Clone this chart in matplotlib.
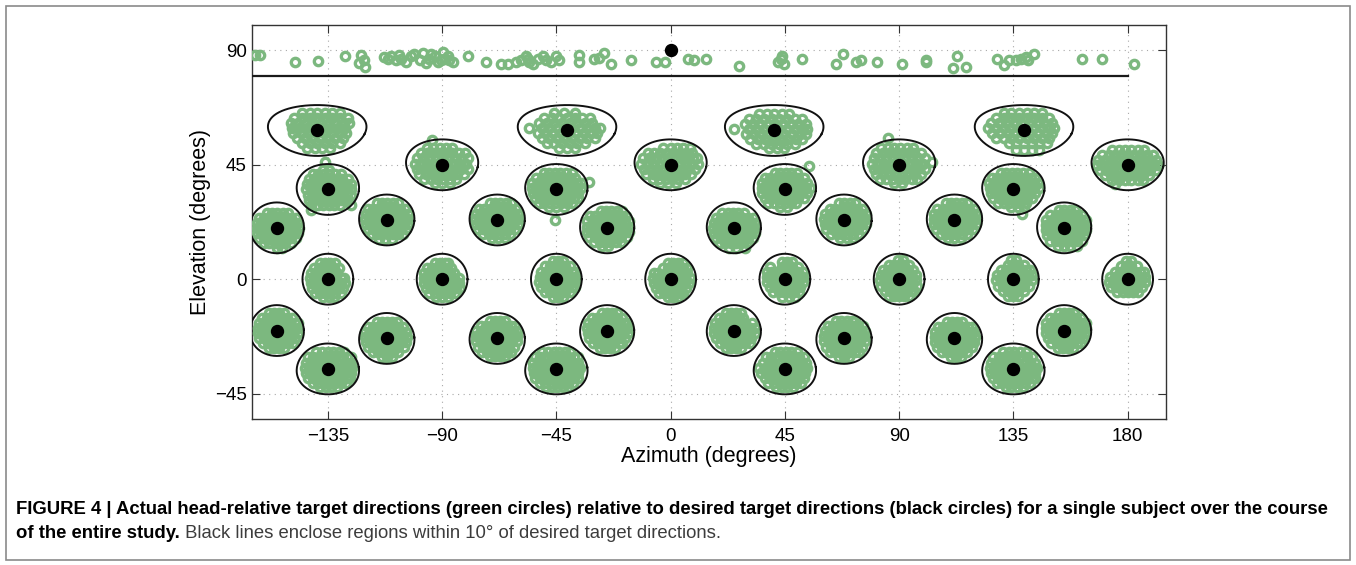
import numpy as np
import matplotlib
matplotlib.use('Agg')
import matplotlib.pyplot as plt
from matplotlib.patches import Rectangle

GREEN = '#7cb87f'
RADIUS = 10  # degrees around each desired direction

# desired target directions (degrees), pole target last
target_az = [-139.2, -40.8, 40.8, 139.2,
             -90, 0, 90, 180,
             -135, -45, 45, 135,
             -111.8, -68.3, 68.3, 111.8,
             -155.1, -25, 24.9, 155,
             -135, -90, -45, 0, 45, 90, 135, 180,
             -155.1, -25, 24.9, 155,
             -111.8, -68.3, 68.3, 111.8,
             -135, -45, 45, 135,
             0]
target_el = [58.5, 58.5, 58.5, 58.5,
             45, 45, 45, 45,
             35.3, 35.3, 35.3, 35.3,
             23.3, 23.3, 23.3, 23.3,
             20.2, 20.2, 20.2, 20.2,
             0, 0, 0, 0, 0, 0, 0, 0,
             -20.2, -20.2, -20.2, -20.2,
             -23.3, -23.3, -23.3, -23.3,
             -35.3, -35.3, -35.3, -35.3,
             90]

# actual directions for the overhead target (spread along azimuth)
pole_az = [-163.8, -161.9, -148.0, -138.7, -128.2, -121.9, -120.6, -122.6, -120.3,
           -112.7, -110.1, -108.1, -106.8, -104.2, -102.2, -100.9, -98.9, -97.6, -96.3,
           -95.0, -93.0, -91.7, -89.8, -89.1, -87.1, -85.8, -106.1, -111.4, -94.3,
           -90.4, -87.8, -79.9, -72.7, -66.8, -64.2, -60.9, -58.9, -56.9, -55.6,
           -54.3, -52.4, -50.4, -49.1, -47.1, -45.1, -43.8, -56.3, -36.2, -36.2,
           -30.0, -28.1, -26.1, -23.5, -15.6, -5.7, -2.2, 6.7, 9.3, 13.9,
           26.8, 42.1, 43.9, 44.8, 43.5, 51.6, 65.1, 68.0, 73.0, 75.0,
           81.3, 91.3, 100.6, 100.6, 112.8, 111.4, 116.3, 128.7, 131.4, 133.3,
           136.0, 138.0, 139.9, 140.6, 143.2, 162.0, 169.8, 182.6]
pole_el = [88.3, 88.3, 85.4, 85.8, 87.9, 88.3, 86.3, 85.0, 83.3,
           87.4, 87.9, 86.3, 88.3, 85.3, 87.7, 88.7, 86.3, 89.0, 85.0,
           86.8, 87.7, 85.5, 89.4, 86.8, 86.1, 85.5, 86.8, 86.8, 88.7,
           86.3, 87.9, 87.9, 85.5, 84.8, 84.8, 85.5, 86.3, 87.7, 85.5,
           84.8, 86.6, 87.9, 86.3, 85.5, 87.7, 86.3, 86.8, 88.3, 85.4,
           86.6, 87.1, 89.0, 84.8, 86.3, 85.4, 85.4, 86.6, 86.1, 86.5,
           84.0, 85.5, 87.9, 84.8, 86.6, 86.6, 84.8, 88.7, 85.5, 86.1,
           85.4, 84.8, 86.3, 85.5, 88.0, 83.0, 83.4, 86.6, 84.4, 86.3,
           86.3, 86.6, 87.4, 86.1, 88.7, 86.6, 86.6, 84.8]

# actual directions around each target, as rows of
# (elevation offset, [azimuth offsets]) in degrees
rows_el58 = [
    [(7, [-6, -3, 0, 3, 6, 9]), (5, [-9, -6, -3, 0, 3, 6, 9, 12]),
     (3, [-10.5, -7.5, -4.5, -1.5, 1.5, 4.5, 7.5, 10.5, 12.5]), (1, [-10, -7, -4, -1, 2, 5, 8, 11]),
     (-1, [-9.5, -6.5, -3.5, -0.5, 2.5, 5.5, 8.5, 11.5]), (-3, [-8, -5, -2, 1, 4, 7, 10]),
     (-5, [-6, -3, 0, 3, 6, 9]), (-7, [-4, -1, 2, 5])],
    [(7, [-5, -1, 3]), (5, [-9, -6, -3, 0, 3, 6, 9]), (3, [-11, -8, -5, -2, 1, 4, 7, 10]),
     (1, [-14.8, -10, -7, -4, -1, 2, 5, 8, 11, 13]), (-1, [-11.5, -8.5, -5.5, -2.5, 0.5, 3.5, 6.5, 9.5, 12]),
     (-3, [-10, -7, -4, -1, 2, 5, 8, 11]), (-5, [-8, -5, -2, 1, 4, 7]), (-7, [-3, 0, 3])],
    [(6.5, [-6, -3, 0, 3, 6]), (4.5, [-10, -7, -4, -1, 2, 5, 8, 11]),
     (2.5, [-11.5, -8.5, -5.5, -2.5, 0.5, 3.5, 6.5, 9.5, 12.5]), (0.5, [-15.7, -10, -7, -4, -1, 2, 5, 8, 11, 13]),
     (-1.5, [-11, -8, -5, -2, 1, 4, 7, 10, 12.5]), (-3.5, [-9.5, -6.5, -3.5, -0.5, 2.5, 5.5, 8.5, 11]),
     (-5.5, [-7, -4, -1, 2, 5, 8]), (-7, [-2, 1, 4])],
    [(7, [-8, -5, -2, 1, 4, 7]), (5, [-11, -8, -5, -2, 1, 4, 7, 10]),
     (3, [-13, -10, -7, -4, -1, 2, 5, 8, 11]), (1, [-14, -11, -8, -5, -2, 1, 4, 7, 10, 12]),
     (-1, [-12.5, -9.5, -6.5, -3.5, -0.5, 2.5, 5.5, 8.5, 11]), (-3, [-11, -8, -5, -2, 1, 4, 7, 10]),
     (-5, [-6, -3, 0, 3, 6, 9]), (-7.5, [-3, 0, 3, 6])],
]
rows_el45 = [
    [(9.9, [-4]), (6.5, [-6, -3.5, -1, 1.5, 4]), (4.5, [-8.5, -6, -3.5, -1, 1.5, 4, 6.5, 9]),
     (2.5, [-10, -7.5, -5, -2.5, 0, 2.5, 5, 7.5, 10]), (0.5, [-10.5, -8, -5.5, -3, -0.5, 2, 4.5, 7, 9.5]),
     (-1.5, [-10, -7.5, -5, -2.5, 0, 2.5, 5, 7.5, 10]), (-3.5, [-9, -6.5, -4, -1.5, 1, 3.5, 6, 8.5]),
     (-5.5, [-7, -4.5, -2, 0.5, 3, 5.5]), (-7, [-3, 0, 3])],
    [(6.5, [-3, 0, 2.5, 5, 7.5]), (4.5, [-9, -6.5, -4, -1.5, 1, 3.5, 6, 8.5]),
     (2.5, [-11, -8.5, -6, -3.5, -1, 1.5, 4, 6.5, 9, 10.5]), (0.5, [-11.5, -9, -6.5, -4, -1.5, 1, 3.5, 6, 8.5, 10.8]),
     (-1.5, [-10.5, -8, -5.5, -3, -0.5, 2, 4.5, 7, 9.5]), (-3.5, [-9.5, -7, -4.5, -2, 0.5, 3, 5.5, 8]),
     (-5.5, [-7, -4.5, -2, 0.5, 3, 5.5]), (-7, [-4, -1, 2])],
    [(10.5, [-4.2]), (6.5, [-7, -4.5, -2, 0.5, 3, 5.5]), (4.5, [-9, -6.5, -4, -1.5, 1, 3.5, 6, 8.5]),
     (2.5, [-10, -7.5, -5, -2.5, 0, 2.5, 5, 7.5, 10]), (1.3, [13.1]),
     (0.5, [-10.5, -8, -5.5, -3, -0.5, 2, 4.5, 7, 9.5]), (-1.5, [-10, -7.5, -5, -2.5, 0, 2.5, 5, 7.5, 10]),
     (-3.5, [-9, -6.5, -4, -1.5, 1, 3.5, 6, 8.5]), (-5.5, [-7.5, -5, -2.5, 0, 2.5, 5, 7]), (-7, [-2, 1])],
    [(6, [-6, -3.5, -1, 1.5, 4, 6.5]), (4, [-10, -7.5, -5, -2.5, 0, 2.5, 5, 7.5, 10]),
     (2, [-11.5, -9, -6.5, -4, -1.5, 1, 3.5, 6, 8.5, 11]), (0, [-12, -9.5, -7, -4.5, -2, 0.5, 3, 5.5, 8, 10.5, 12]),
     (-2, [-11, -8.5, -6, -3.5, -1, 1.5, 4, 6.5, 9, 11]), (-4, [-9, -6.5, -4, -1.5, 1, 3.5, 6, 8.5]),
     (-6, [-6, -3.5, -1, 1.5, 4, 6]), (-7.5, [-5])],
]
rows_el35 = [
    [(11, [-1]), (7.5, [-2, 0.5]), (6, [-6, -3.8, -1.6, 0.6, 2.8, 5]),
     (4, [-7.5, -5.3, -3.1, -0.9, 1.3, 3.5, 5.7, 7.9]), (2, [-8.4, -6.2, -4, -1.8, 0.4, 2.6, 4.8, 7, 9]),
     (0, [-8.5, -6.3, -4.1, -1.9, 0.3, 2.5, 4.7, 6.9, 9]), (-2, [-8, -5.8, -3.6, -1.4, 0.8, 3, 5.2, 7.4, 9]),
     (-4, [-7.5, -5.3, -3.1, -0.9, 1.3, 3.5, 5.7, 8]), (-6, [-6.5, -4, -1.8, 0.4, 2.6, 4.8, 9.2]), (-8, [-6.6])],
    [(6.5, [-5, -2.8, -0.6, 1.6, 3.8, 6]), (4.5, [-8, -5.8, -3.6, -1.4, 0.8, 3, 5.2, 7.4]), (3.1, [13]),
     (2.5, [-9.5, -7.3, -5.1, -2.9, -0.7, 1.5, 3.7, 5.9, 8.1, 9.6]),
     (0.5, [-9.6, -7.4, -5.2, -3, -0.8, 1.4, 3.6, 5.8, 8, 9.8]),
     (-1.5, [-9.2, -7, -4.8, -2.6, -0.4, 1.8, 4, 6.2, 8.4]),
     (-3.5, [-8.5, -6.3, -4.1, -1.9, 0.3, 2.5, 4.7, 6.9, 8.6]),
     (-5.5, [-7, -4.8, -2.6, -0.4, 1.8, 4, 6.2]), (-7, [-3, 0, 3]), (-12.2, [-0.4])],
    [(9.3, [9.6]), (6.5, [-4, -1.8, 0.4, 2.6, 4.8]), (4.5, [-8, -5.8, -3.6, -1.4, 0.8, 3, 5.2, 7.4]),
     (2.5, [-9, -6.8, -4.6, -2.4, -0.2, 2, 4.2, 6.4, 8.6]),
     (0.5, [-9.2, -7, -4.8, -2.6, -0.4, 1.8, 4, 6.2, 8.4, 9.8]),
     (-1.5, [-9, -6.8, -4.6, -2.4, -0.2, 2, 4.2, 6.4, 8.6]),
     (-3.5, [-8, -5.8, -3.6, -1.4, 0.8, 3, 5.2, 7.4]), (-5.5, [-6.5, -4.3, -2.1, 0.1, 2.3, 4.5]), (-7, [-2, 1])],
    [(6.5, [-5, -2.8, -0.6, 1.6, 3.8, 6]), (4.5, [-8.5, -6.3, -4.1, -1.9, 0.3, 2.5, 4.7, 6.9, 8.5]),
     (2.5, [-9.5, -7.3, -5.1, -2.9, -0.7, 1.5, 3.7, 5.9, 8.1, 9.8]),
     (0.5, [-9.4, -7.2, -5, -2.8, -0.6, 1.6, 3.8, 6, 8.2, 10]),
     (-1.5, [-9, -6.8, -4.6, -2.4, -0.2, 2, 4.2, 6.4, 8.6]),
     (-3.5, [-8, -5.8, -3.6, -1.4, 0.8, 3, 5.2, 7.4]), (-5.5, [-6, -3.8, -1.6, 0.6, 2.8, 5]),
     (-7, [-1, 2, 4]), (-9.6, [3.3])],
]
rows_el23 = [
    [(6.5, [-4, -1.9, 0.2, 2.3, 4.4]), (4.5, [-7.5, -5.4, -3.3, -1.2, 0.9, 3, 5.1, 7.2]),
     (2.5, [-8.3, -6.2, -4.1, -2, 0.1, 2.2, 4.3, 6.4, 8.3]), (0.5, [-8.5, -6.4, -4.3, -2.2, -0.1, 2, 4.1, 6.2, 8.3]),
     (-1.5, [-8.3, -6.2, -4.1, -2, 0.1, 2.2, 4.3, 6.4, 8.4]), (-3.5, [-7.5, -5.4, -3.3, -1.2, 0.9, 3, 5.1, 7.5]),
     (-5.5, [-6, -3.9, -1.8, 0.3, 2.4, 4.5, 6.3]), (-7.5, [-3, -0.5, 2])],
    [(6.5, [-3, -0.9, 1.2, 3.3, 5.4]), (4.5, [-7.2, -5.1, -3, -0.9, 1.2, 3.3, 5.4, 7.5]),
     (2.5, [-8.5, -6.4, -4.3, -2.2, -0.1, 2, 4.1, 6.2, 8.2]), (0.5, [-8.7, -6.6, -4.5, -2.4, -0.3, 1.8, 3.9, 6, 8.1]),
     (-1.5, [-8.5, -6.4, -4.3, -2.2, -0.1, 2, 4.1, 6.2, 8.3]), (-3.5, [-7.6, -5.5, -3.4, -1.3, 0.8, 2.9, 5, 7.2]),
     (-5.5, [-5.5, -3.4, -1.3, 0.8, 2.9, 5]), (-7.2, [-2, 0.5, 3])],
    [(6.5, [-2, 0.1, 2.2, 4.3]), (4.5, [-5.5, -3.4, -1.3, 0.8, 2.9, 5, 7.1]),
     (2.5, [-7.5, -5.4, -3.3, -1.2, 0.9, 3, 5.1, 7.2, 8.6]), (0.5, [-7.8, -5.7, -3.6, -1.5, 0.6, 2.7, 4.8, 6.9, 8.8]),
     (-1.5, [-7.6, -5.5, -3.4, -1.3, 0.8, 2.9, 5, 7.1, 8.6]), (-3.5, [-7, -4.9, -2.8, -0.7, 1.4, 3.5, 5.6, 7.5]),
     (-5.5, [-5, -2.9, -0.8, 1.3, 3.4, 5.5]), (-7, [-1.5, 1, 3.5])],
    [(6.5, [-3.5, -1.4, 0.7, 2.8, 4.9]), (4.5, [-6.8, -4.7, -2.6, -0.5, 1.6, 3.7, 5.8, 7.6]),
     (2.5, [-8, -5.9, -3.8, -1.7, 0.4, 2.5, 4.6, 6.7, 8.4]), (0.5, [-8.2, -6.1, -4, -1.9, 0.2, 2.3, 4.4, 6.5, 8.5]),
     (-1.5, [-8, -5.9, -3.8, -1.7, 0.4, 2.5, 4.6, 6.7, 8.5]), (-3.5, [-7.2, -5.1, -3, -0.9, 1.2, 3.3, 5.4, 7.4]),
     (-5.5, [-5.5, -3.4, -1.3, 0.8, 2.9, 5]), (-7.2, [-2.5, 0, 2.5])],
]
rows_el20 = [
    [(6, [-4, -1.9, 0.2, 2.3, 4.4]), (4, [-7, -4.9, -2.8, -0.7, 1.4, 3.5, 5.6, 7.6]),
     (2, [-7.8, -5.7, -3.6, -1.5, 0.6, 2.7, 4.8, 6.9, 8.5]), (0, [-8, -5.9, -3.8, -1.7, 0.4, 2.5, 4.6, 6.7, 8.6]),
     (-2, [-7.8, -5.7, -3.6, -1.5, 0.6, 2.7, 4.8, 6.9, 8.4]), (-4, [-7, -4.9, -2.8, -0.7, 1.4, 3.5, 5.6, 7.4]),
     (-6, [-5, -2.9, -0.8, 1.3, 3.4, 5.5]), (-7.8, [0, 2])],
    [(6.5, [-2.5, -0.4, 1.7, 3.8, 5.9]), (4.5, [-6.8, -4.7, -2.6, -0.5, 1.6, 3.7, 5.8, 7.6]),
     (2.5, [-7.8, -5.7, -3.6, -1.5, 0.6, 2.7, 4.8, 6.9, 8.6]), (0.5, [-8, -5.9, -3.8, -1.7, 0.4, 2.5, 4.6, 6.7, 8.7]),
     (-1.5, [-7.8, -5.7, -3.6, -1.5, 0.6, 2.7, 4.8, 6.9, 8.5]), (-3.5, [-7, -4.9, -2.8, -0.7, 1.4, 3.5, 5.6, 7.7]),
     (-5.5, [-5, -2.9, -0.8, 1.3, 3.4, 5.5]), (-7, [-2, 0.5])],
    [(6, [-4.5, -2.4, -0.3, 1.8, 3.9]), (4, [-7, -4.9, -2.8, -0.7, 1.4, 3.5, 5.6, 7.5]),
     (2, [-8, -5.9, -3.8, -1.7, 0.4, 2.5, 4.6, 6.7, 8.2]), (0, [-8.2, -6.1, -4, -1.9, 0.2, 2.3, 4.4, 6.5, 8.4]),
     (-2, [-8, -5.9, -3.8, -1.7, 0.4, 2.5, 4.6, 6.7, 8.2]), (-4, [-7, -4.9, -2.8, -0.7, 1.4, 3.5, 5.6, 7.5]),
     (-6, [-5.5, -3.4, -1.3, 0.8, 2.9, 5]), (-7.8, [-2, 1, 4.5])],
    [(7, [-2, 0.1, 2.2, 4.3]), (5, [-5.5, -3.4, -1.3, 0.8, 2.9, 5, 7.1]),
     (3, [-7, -4.9, -2.8, -0.7, 1.4, 3.5, 5.6, 7.7, 8.6]), (1, [-7.2, -5.1, -3, -0.9, 1.2, 3.3, 5.4, 7.5, 8.8]),
     (-1, [-7, -4.9, -2.8, -0.7, 1.4, 3.5, 5.6, 7.7, 8.6]), (-3, [-6.8, -4.7, -2.6, -0.5, 1.6, 3.7, 5.8, 7.8]),
     (-5, [-5.5, -3.4, -1.3, 0.8, 2.9, 5, 7]), (-7, [-2.5, 0, 2.5, 5])],
]
rows_el0 = [
    [(6.5, [-3, -1, 1, 3]), (4.5, [-5.5, -3.5, -1.5, 0.5, 2.5, 4.5]), (2.5, [-6.5, -4.5, -2.5, -0.5, 1.5, 3.5]),
     (0.5, [-7, -5, -3, -1, 1, 3, 5, 6.5]), (-1.5, [-6.8, -4.8, -2.8, -0.8, 1.2, 3.2, 5.2, 6.8]),
     (-3.5, [-6.2, -4.2, -2.2, -0.2, 1.8, 3.8, 5.8]), (-5.5, [-5, -3, -1, 1, 3, 5]), (-7.2, [-2, 0.5, 2.5])],
    [(6.5, [-3, -1, 1, 2.5]), (4.5, [-6, -4, -2, 0, 2, 3.5]), (2.5, [-7, -5, -3, -1, 1, 3, 4.8]),
     (0.5, [-7.2, -5.2, -3.2, -1.2, 0.8, 2.8, 4.8, 6.5]), (-1.5, [-7, -5, -3, -1, 1, 3, 5, 6.8]),
     (-3.5, [-6.5, -4.5, -2.5, -0.5, 1.5, 3.5, 5.5, 7]), (-5.5, [-5, -3, -1, 1, 3, 5]), (-7.2, [-2.5, 0, 2.5])],
    [(7, [-1.5, 0.5, 2.5]), (5, [-4.5, -2.5, -0.5, 1.5, 3.5, 5.5]), (3, [-6, -4, -2, 0, 2, 4, 6, 7.5]),
     (1, [-6.5, -4.5, -2.5, -0.5, 1.5, 3.5, 5.5, 7.5]), (-1, [-6.7, -4.7, -2.7, -0.7, 1.3, 3.3, 5.3, 7.3]),
     (-3, [-6, -4, -2, 0, 2, 4, 6, 7.5]), (-5, [-4.5, -2.5, -0.5, 1.5, 3.5, 5.5]), (-7, [-1.5, 0.5, 2.5])],
    [(6.5, [-1, 1, 3, 5]), (4.5, [-3, -1, 1, 3, 5, 6.5]), (2.5, [-6.5, -4.8, -2, 0, 2, 4, 6.5]),
     (0.5, [-6.8, -4.8, -2.8, -0.8, 1.2, 3.2, 5.2, 7.5]), (-1.5, [-6.5, -4.5, -2.5, -0.5, 1.5, 3.5, 5.5, 7.2]),
     (-3.5, [-5.8, -3.8, -1.8, 0.2, 2.2, 4.2, 6.2]), (-5.5, [-4.5, -2.5, -0.5, 1.5, 3.5, 5]), (-7.2, [-1, 1, 3])],
    [(6.8, [-1, 1, 3]), (4.8, [-6, -1, 1, 3, 5]), (2.8, [-7, -5, -3, -1, 1, 3, 5, 7]),
     (0.8, [-7, -5, -3, -1, 1, 3, 5, 7]), (-1.2, [-7, -5, -3, -1, 1, 3, 5, 7]),
     (-3.2, [-6, -4, -2, 0, 2, 4, 6]), (-5.2, [-4.5, -2.5, -0.5, 1.5, 3.5, 5.5]), (-7, [-1, 1.5, 4])],
    [(7.5, [-0.5, 1.5]), (5.5, [-4, -2, 0, 2, 4]), (3.5, [-6.5, -4.5, -2.5, -0.5, 1.5, 3.5, 5.5]),
     (1.5, [-7.2, -5.2, -3.2, -1.2, 0.8, 2.8, 4.8, 6.8]), (-0.5, [-7.4, -5.4, -3.4, -1.4, 0.6, 2.6, 4.6, 6.6]),
     (-2.5, [-7, -5, -3, -1, 1, 3, 5, 7]), (-4.5, [-5.5, -3.5, -1.5, 0.5, 2.5, 4.5, 6]), (-6.5, [-4, -2, 0, 2, 4])],
    [(7.5, [-1, 1]), (5.5, [-2, 0, 2, 4]), (3.5, [-5, -3, -1, 1, 3, 5, 6.5]),
     (1.5, [-6.5, -4.5, -2.5, -0.5, 1.5, 3.5, 5.5, 7.5]), (-0.5, [-7, -5, -3, -1, 1, 3, 5, 7.5]),
     (-2.5, [-6, -4, -2, 0, 2, 4, 6]), (-4.5, [-4, -2, 0, 2, 4]), (-6.5, [-2, 0, 2])],
    [(7, [-0.5, 1.5]), (5, [-2.5, -0.5, 1.5, 3.5]), (3, [-5, -3, -1, 1, 3, 5, 6.5]),
     (1, [-7, -5, -3, -1, 1, 3, 5, 7]), (-1, [-7.2, -5.2, -3.2, -1.2, 0.8, 2.8, 4.8, 6.8]),
     (-3, [-6.5, -4.5, -2.5, -0.5, 1.5, 3.5, 5.5]), (-5, [-4, -2, 0, 2, 4])],
]
rows_elm20 = [
    [(7, [-3, -1, 1, 3]), (5, [-6, -4, -2, 0, 2, 4, 6]), (3, [-7, -5, -3, -1, 1, 3, 5, 7, 8.5]),
     (1, [-7.5, -5.5, -3.5, -1.5, 0.5, 2.5, 4.5, 6.5, 8.5]), (-1, [-7.5, -5.5, -3.5, -1.5, 0.5, 2.5, 4.5, 6.5, 8.3]),
     (-3, [-7, -5, -3, -1, 1, 3, 5, 7]), (-5, [-5.5, -3.5, -1.5, 0.5, 2.5, 4.5, 6.5]), (-7, [-3, -1, 1, 3])],
    [(7, [-2, 0, 2, 4]), (5, [-6, -4, -2, 0, 2, 4, 6]), (3, [-7.5, -5.5, -3.5, -1.5, 0.5, 2.5, 4.5, 6.5, 8]),
     (1, [-7.8, -5.8, -3.8, -1.8, 0.2, 2.2, 4.2, 6.2, 8.2]), (-1, [-7.6, -5.6, -3.6, -1.6, 0.4, 2.4, 4.4, 6.4, 8.2]),
     (-3, [-7, -5, -3, -1, 1, 3, 5, 7]), (-5, [-5.5, -3.5, -1.5, 0.5, 2.5, 4.5, 6]), (-7, [-3, -1, 1, 3])],
    [(7, [-3, -1, 1, 3]), (5, [-6, -4, -2, 0, 2, 3.5]), (3, [-7.5, -5.5, -3.5, -1.5, 0.5, 2.5, 4.5, 7]),
     (1, [-7.8, -5.8, -3.8, -1.8, 0.2, 2.2, 4.2, 6.2, 8.2]), (-1, [-7.8, -5.8, -3.8, -1.8, 0.2, 2.2, 4.2, 6.2, 8.2]),
     (-3, [-7.2, -5.2, -3.2, -1.2, 0.8, 2.8, 4.8, 6.8]), (-5, [-5.5, -3.5, -1.5, 0.5, 2.5, 4.5, 6.5]),
     (-7, [-3, -1, 1, 3])],
    [(7, [-2, 0, 2, 4]), (5, [-5.5, -3.5, -1.5, 0.5, 2.5, 4.5, 6.5]), (3, [-7, -5, -3, -1, 1, 3, 5, 7, 8.5]),
     (1, [-7.2, -5.2, -3.2, -1.2, 0.8, 2.8, 4.8, 6.8, 8.6]), (-1, [-7.2, -5.2, -3.2, -1.2, 0.8, 2.8, 4.8, 6.8, 8.4]),
     (-3, [-6.5, -4.5, -2.5, -0.5, 1.5, 3.5, 5.5, 7.5]), (-5, [-5, -3, -1, 1, 3, 5, 6.5]),
     (-7, [-2.5, -0.5, 1.5, 3.5])],
]
rows_elm23 = [
    [(6.5, [-4, -2, 0, 2, 4]), (4.5, [-7.5, -5.5, -3.5, -1.5, 0.5, 2.5, 4.5, 6.5]),
     (2.5, [-8.4, -6.4, -4.4, -2.4, -0.4, 1.6, 3.6, 5.6, 7.6]), (0.5, [-8.5, -6.5, -4.5, -2.5, -0.5, 1.5, 3.5, 5.5, 7.8]),
     (-1.5, [-8.3, -6.3, -4.3, -2.3, -0.3, 1.7, 3.7, 5.7, 7.7]), (-3.5, [-7.5, -5.5, -3.5, -1.5, 0.5, 2.5, 4.5, 6.8]),
     (-5.5, [-5.5, -3.5, -1.5, 0.5, 2.5, 4.5]), (-7.2, [-2, 0, 2])],
    [(6.8, [-3, -1, 1, 3]), (4.8, [-6.5, -4.5, -2.5, -0.5, 1.5, 3.5, 5.5, 7]),
     (2.8, [-8.3, -6.3, -4.3, -2.3, -0.3, 1.7, 3.7, 5.7, 7.7]), (0.8, [-8.5, -6.5, -4.5, -2.5, -0.5, 1.5, 3.5, 5.5, 7.6]),
     (-1.2, [-8.3, -6.3, -4.3, -2.3, -0.3, 1.7, 3.7, 5.7, 7.7]), (-3.2, [-7.5, -5.5, -3.5, -1.5, 0.5, 2.5, 4.5, 6.8]),
     (-5.2, [-6, -4, -2, 0, 2, 4, 5.5]), (-7, [-3, -1, 1, 3])],
    [(6.8, [-3, -1, 1, 3, 4.5]), (4.8, [-6.5, -4.5, -2.5, -0.5, 1.5, 3.5, 5.5, 7.5]),
     (2.8, [-7.5, -5.5, -3.5, -1.5, 0.5, 2.5, 4.5, 6.5, 8.3]), (0.8, [-7.8, -5.8, -3.8, -1.8, 0.2, 2.2, 4.2, 6.2, 8.4]),
     (-1.2, [-7.8, -5.8, -3.8, -1.8, 0.2, 2.2, 4.2, 6.2, 8.3]), (-3.2, [-7, -5, -3, -1, 1, 3, 5, 7.2]),
     (-5.2, [-5.5, -3.5, -1.5, 0.5, 2.5, 4.5, 6]), (-7.2, [-2, 0, 2])],
    [(6.5, [-3, -1, 1, 3]), (4.5, [-6.5, -4.5, -2.5, -0.5, 1.5, 3.5, 5.5, 7]),
     (2.5, [-7.5, -5.5, -3.5, -1.5, 0.5, 2.5, 4.5, 6.5, 7.8]), (0.5, [-7.8, -5.8, -3.8, -1.8, 0.2, 2.2, 4.2, 6.2, 8]),
     (-1.5, [-7.6, -5.6, -3.6, -1.6, 0.4, 2.4, 4.4, 6.4, 7.8]), (-3.5, [-7, -5, -3, -1, 1, 3, 5, 7]),
     (-5.5, [-5, -3, -1, 1, 3, 5]), (-7.5, [-1.5, 0.5, 2.5])],
]
rows_elm35 = [
    [(6.5, [-4.5, -2.3, -0.1, 2.1, 4.3, 6.5]), (4.5, [-8, -5.8, -3.6, -1.4, 0.8, 3, 5.2, 7.4, 9]),
     (2.5, [-8.8, -6.6, -4.4, -2.2, 0, 2.2, 4.4, 6.6, 8.8, 9.5]),
     (0.5, [-9, -6.8, -4.6, -2.4, -0.2, 2, 4.2, 6.4, 8.6, 9.6]),
     (-1.5, [-8.6, -6.4, -4.2, -2, 0.2, 2.4, 4.6, 6.8, 9]),
     (-3.5, [-8, -5.8, -3.6, -1.4, 0.8, 3, 5.2, 7.4, 8.8]), (-5.5, [-6, -3.8, -1.6, 0.6, 2.8, 5, 7]),
     (-7, [-3, -0.8, 1.4, 3.6])],
    [(6.5, [-5.5, -3.3, -1.1, 1.1, 3.3, 5.5]), (4.5, [-8.5, -6.3, -4.1, -1.9, 0.3, 2.5, 4.7, 6.9, 8.5]),
     (2.5, [-9.2, -7, -4.8, -2.6, -0.4, 1.8, 4, 6.2, 8.4]),
     (0.5, [-9.3, -7.1, -4.9, -2.7, -0.5, 1.7, 3.9, 6.1, 8.3, 9.4]),
     (-1.5, [-9, -6.8, -4.6, -2.4, -0.2, 2, 4.2, 6.4, 8.6]),
     (-3.5, [-8.5, -6.3, -4.1, -1.9, 0.3, 2.5, 4.7, 6.9, 8.4]), (-5.5, [-6.5, -4.3, -2.1, 0.1, 2.3, 4.5, 6.5]),
     (-7.2, [-4, -1.8, 0.4, 2.6, 4.5])],
    [(6.5, [-4, -1.8, 0.4, 2.6, 4.8]), (4.5, [-7.5, -5.3, -3.1, -0.9, 1.3, 3.5, 5.7, 7.5]),
     (2.5, [-8.5, -6.3, -4.1, -1.9, 0.3, 2.5, 4.7, 6.9, 8.4]),
     (0.5, [-10.2, -8, -5.8, -3.6, -1.4, 0.8, 3, 5.2, 7.4, 8.6]),
     (-1.5, [-9.5, -7.3, -5.1, -2.9, -0.7, 1.5, 3.7, 5.9, 8.1]),
     (-3.5, [-8, -5.8, -3.6, -1.4, 0.8, 3, 5.2, 7.4]), (-5.5, [-6.5, -4.3, -2.1, 0.1, 2.3, 4.5, 6.5]),
     (-7.3, [-3.5, -1.3, 0.9, 3.1])],
    [(6.5, [-4, -1.8, 0.4, 2.6, 4.8]), (4.5, [-8, -5.8, -3.6, -1.4, 0.8, 3, 5.2, 7.4]),
     (2.5, [-9, -6.8, -4.6, -2.4, -0.2, 2, 4.2, 6.4, 8.6]),
     (0.5, [-9.2, -7, -4.8, -2.6, -0.4, 1.8, 4, 6.2, 8.4, 9.3]),
     (-1.5, [-9, -6.8, -4.6, -2.4, -0.2, 2, 4.2, 6.4, 8.6]),
     (-3.5, [-8.2, -6, -3.8, -1.6, 0.6, 2.8, 5, 7.2, 8.5]), (-5.5, [-6.5, -4.3, -2.1, 0.1, 2.3, 4.5, 6.5]),
     (-7, [-3, -0.8, 1.4, 3.6])],
]

x_ticks = [-135, -90, -45, 0, 45, 90, 135, 180]
y_ticks = [-45, 0, 45, 90]

caption_bold = ('FIGURE 4 | Actual head-relative target directions (green circles) relative to desired '
                'target directions (black circles) for a single subject over the course')
caption_bold2 = 'of the entire study.'
caption_rest = ' Black lines enclose regions within 10\u00b0 of desired target directions.'


def small_circle(az0, el0, r):
    # 10 degree cone around a direction, traced on the sphere and returned as az/el
    a, e, rr = np.radians(az0), np.radians(el0), np.radians(r)
    t = np.linspace(0, 2 * np.pi, 181)
    c = np.array([np.cos(e) * np.cos(a), np.cos(e) * np.sin(a), np.sin(e)])
    u = np.array([-np.sin(a), np.cos(a), 0.0])
    v = np.array([-np.sin(e) * np.cos(a), -np.sin(e) * np.sin(a), np.cos(e)])
    p = (np.cos(rr) * c[:, None] + np.sin(rr) * (np.cos(t) * u[:, None] + np.sin(t) * v[:, None]))
    el = np.degrees(np.arcsin(p[2]))
    az = np.degrees(np.arctan2(p[1], p[0]))
    az = az0 + (az - az0 + 180) % 360 - 180
    return az, el


plt.rcParams['font.family'] = ['Liberation Sans', 'DejaVu Sans']

fig = plt.figure(figsize=(13.56, 5.65), dpi=100)
ax = fig.add_axes([251.7 / 1356, 146 / 565, 914 / 1356, 394 / 565])

green_rows = rows_el58 + rows_el45 + rows_el35 + rows_el23 + rows_el20 + rows_el0 + rows_elm20 + rows_elm23 + rows_elm35
green_az, green_el = list(pole_az), list(pole_el)
for taz, tel, rows in zip(target_az, target_el, green_rows):
    for d_el, offsets in rows:
        for d_az in offsets:
            green_az.append(taz + d_az)
            green_el.append(tel + d_el)

ax.plot(green_az, green_el, 'o', ls='none', mfc='none', mec=GREEN, ms=6.0, mew=2.4, zorder=3)

for taz, tel in zip(target_az, target_el):
    if tel == 90:
        ax.plot([-180, 180], [90 - RADIUS, 90 - RADIUS], color='#1a1a1a', lw=1.6, zorder=4)
    else:
        caz, cel = small_circle(taz, tel, RADIUS)
        ax.plot(caz, cel, color='#111111', lw=1.4, zorder=4)

ax.plot(target_az, target_el, 'o', ls='none', color='black', ms=8.6, zorder=5)

ax.set_xlim(-165, 195)
ax.set_ylim(-55, 100)
ax.set_xticks(x_ticks)
ax.set_yticks(y_ticks)
ax.grid(True, ls=(0, (1, 4)), color='#a8a8a8', lw=0.8)
ax.set_axisbelow(True)
ax.tick_params(direction='in', top=True, right=True, length=6, width=0.8, colors='#333333',
               labelcolor='black', labelsize=13.5)
ax.tick_params(axis='x', pad=6.5)
ax.tick_params(axis='y', pad=3.5)
for s in ax.spines.values():
    s.set_color('#333333')
    s.set_linewidth(1.0)

ax.set_xlabel('Azimuth (degrees)', fontsize=15.5)
ax.set_ylabel('Elevation (degrees)', fontsize=15.5)
ax.xaxis.set_label_coords(0.5, -0.068)
ax.yaxis.set_label_coords(-0.044, 0.5)

fig.add_artist(Rectangle((5.5 / 1356, 5.5 / 565), 1344 / 1356, 554 / 565, transform=fig.transFigure,
                         fill=False, ec='#8a8a8a', lw=1.2))

cap_font = ['Liberation Sans', 'DejaVu Sans']
fig.text(16 / 1356, (565 - 514) / 565, caption_bold, family=cap_font, weight='bold',
         fontsize=13.35, va='baseline')
t2 = fig.text(16 / 1356, (565 - 538) / 565, caption_bold2, family=cap_font, weight='bold',
              fontsize=13.35, va='baseline')
ax.annotate(caption_rest, xy=(1, 0), xycoords=t2, va='bottom', ha='left', family=cap_font,
            fontsize=13.35, color='#3c3c3c', annotation_clip=False)

fig.savefig('out.png', dpi=100)
